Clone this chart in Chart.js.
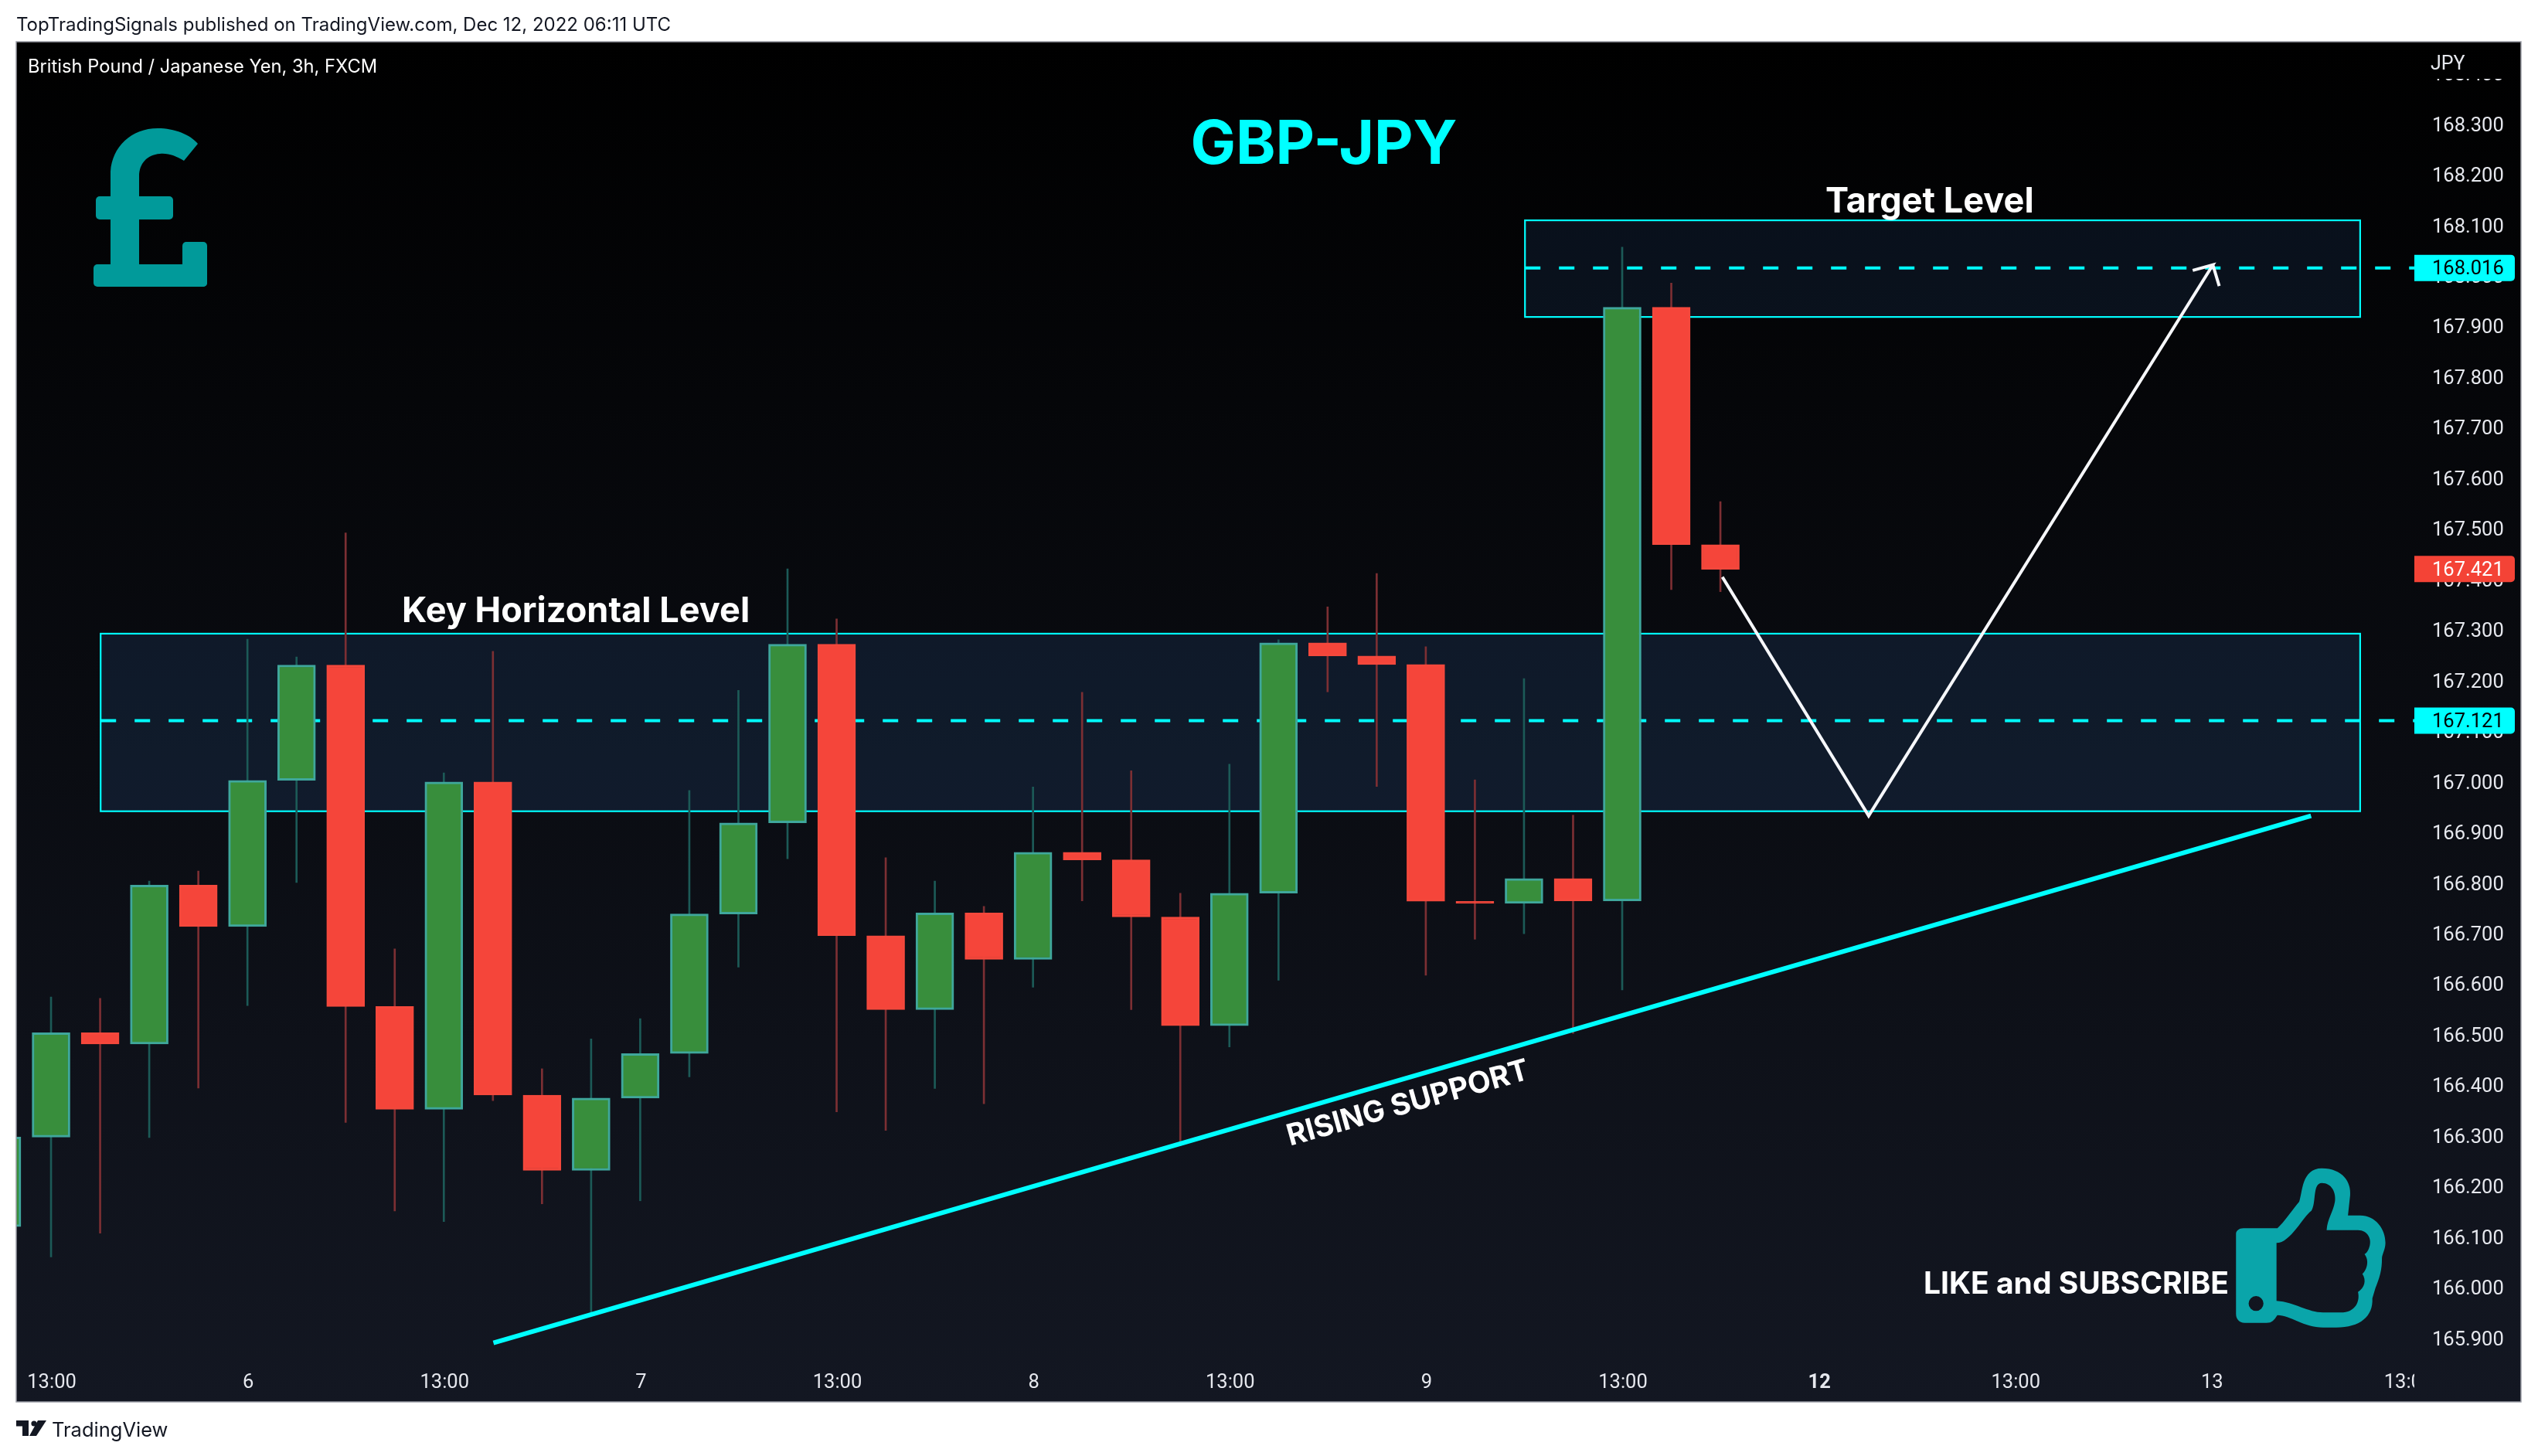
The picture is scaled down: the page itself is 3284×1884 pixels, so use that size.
<!DOCTYPE html>
<html><head><meta charset="utf-8">
<script src="https://cdn.jsdelivr.net/npm/chart.js@4"></script>
<style>html,body{margin:0;padding:0;background:#fff}canvas{display:block}</style>
</head><body><canvas id="c" width="3284" height="1884"></canvas>
<script>
// ---- data ----
const opens  = [166.121,166.298,166.504,166.482,166.796,166.714,167.003,167.231,166.556,166.353,167.000,166.381,166.232,166.375,166.463,166.739,166.919,167.272,166.696,166.550,166.741,166.649,166.861,166.846,166.733,166.518,166.780,167.275,167.249,167.232,166.764,166.760,166.809,166.765,167.938,167.469];
const highs  = [166.310,166.575,166.572,166.804,166.824,167.282,167.247,167.492,166.670,167.018,167.258,166.433,166.492,166.532,166.983,167.181,167.421,167.322,166.850,166.804,166.754,166.990,167.177,167.022,166.780,167.035,167.281,167.346,167.412,167.267,167.004,167.204,166.934,168.057,167.986,167.554];
const lows   = [166.100,166.061,166.108,166.297,166.395,166.558,166.801,166.327,166.152,166.131,166.370,166.166,165.952,166.172,166.417,166.634,166.848,166.348,166.311,166.394,166.364,166.594,166.765,166.550,166.281,166.476,166.608,167.178,166.991,166.618,166.689,166.700,166.503,166.589,167.380,167.376];
const closes = [166.298,166.504,166.482,166.796,166.714,167.003,167.231,166.556,166.353,167.000,166.381,166.232,166.375,166.463,166.739,166.919,167.272,166.696,166.550,166.741,166.649,166.861,166.846,166.733,166.518,166.780,167.275,167.249,167.232,166.764,166.760,166.809,166.765,167.938,167.469,167.420];
const priceTicks = [168.4,168.3,168.2,168.1,168.0,167.9,167.8,167.7,167.6,167.5,167.4,167.3,167.2,167.1,167.0,166.9,166.8,166.7,166.6,166.5,166.4,166.3,166.2,166.1,166.0,165.9];
const timeTickBars = [1,5,9,13,17,21,25,29,33,37,41,45,49];
const timeTickLabels = ['13:00','6','13:00','7','13:00','8','13:00','9','13:00','12','13:00','13','13:00'];
const keyZone = [2.01,48.03,167.293,166.942];
const targetZone = [31.02,48.03,168.110,167.919];
const keyLevel = 167.121, targetLevel = 168.016, lastPrice = 167.421;
const levelBars = [49.134];
const trendX = [10.01,47.03], trendY = [165.891,166.933];
const arrowX = [35.04,38.02,45.03,44.62,45.03,45.16];
const arrowY = [167.405,166.933,168.022,168.011,168.022,167.980];
const fullSans = 'Inter, "Noto Sans", sans-serif';
const axisSans = 'Roboto, "Noto Sans", sans-serif';

const GREEN='#388e3c', GREENB='#3fa79c', RED='#f5453a', REDB='#f4483c', GW='#1c5a57', RW='#7c2f33', CY='#00ffff', TEAL='#019a9a', TEAL2='#0aa5aa';
const up = i => closes[i] >= opens[i];
const pts = (xs,ys)=>xs.map((x,i)=>({x,y:ys[i]}));

const paintBg = {
  id:'paintBg',
  beforeDraw(ch){
    const c=ch.ctx; c.save();
    c.fillStyle='#fff'; c.fillRect(0,0,3284,1884);
    const g=c.createLinearGradient(0,54,0,1814);
    g.addColorStop(0,'#000000'); g.addColorStop(1,'#131722');
    c.fillStyle=g; c.fillRect(21,54,3241,1760);
    c.restore();
    ch.scales.y.getLabelItems().forEach(it=>{ if(!it.moved){ it.options.translation[1]+=2.5; it.moved=true; } });
    ch.scales.x.getLabelItems().forEach(it=>{ if(!it.moved){ it.options.translation[0]+=1; it.moved=true; } });
  }
};
function zone(ch,z,fill){
  const X=ch.scales.x,Y=ch.scales.y,c=ch.ctx;
  const l=X.getPixelForValue(z[0]),r=X.getPixelForValue(z[1]),t=Y.getPixelForValue(z[2]),b=Y.getPixelForValue(z[3]);
  c.fillStyle=fill; c.fillRect(l,t,r-l,b-t);
  c.strokeStyle=CY; c.lineWidth=2.2; c.strokeRect(l,t,r-l,b-t);
}
const zones = { id:'zones', beforeDatasetsDraw(ch){ const c=ch.ctx; c.save(); zone(ch,keyZone,'rgba(36,70,120,0.25)'); zone(ch,targetZone,'rgba(36,70,120,0.2)'); c.restore(); } };

function txt(c,s,x,y,font,color,align){ c.font=font; c.fillStyle=color; c.textAlign=align||'left'; c.textBaseline='alphabetic'; c.fillText(s,x,y); }
function rr(c,x,y,w,h,r){ c.beginPath(); c.roundRect(x,y,w,h,r); c.fill(); }
function tag(ch,val,bg,fg){
  const c=ch.ctx,y=ch.scales.y.getPixelForValue(val);
  c.fillStyle=bg; c.beginPath(); c.roundRect(3124,y-17,130,34,[0,5,5,0]); c.fill();
  c.font='25.5px '+axisSans; c.fillStyle=fg; c.textAlign='left'; c.textBaseline='middle';
  c.fillText(val.toFixed(3),3147,y+2);
}
function pound(c){
  c.fillStyle=TEAL;
  rr(c,124,254,100,30,5); rr(c,121,342,147,29,5); rr(c,236,313,32,58,5);
  c.beginPath(); c.moveTo(143,345); c.lineTo(143,222);
  c.bezierCurveTo(145,190,170,166,204,166);
  c.bezierCurveTo(226,166,246,174,256,186);
  c.lineTo(238,208);
  c.bezierCurveTo(228,202,218,198,207,199);
  c.bezierCurveTo(190,200,180,212,180,228);
  c.lineTo(180,345); c.closePath(); c.fill();
}
function thumb(c){
  const X=v=>2400+v/1.774, Y=v=>1440+v/3;
  const M=(a,b)=>c.moveTo(X(a),Y(b)), L=(a,b)=>c.lineTo(X(a),Y(b));
  const B=(a,b,d,e,f,g)=>c.bezierCurveTo(X(a),Y(b),X(d),Y(e),X(f),Y(g));
  c.fillStyle=TEAL2; c.beginPath();
  M(875,470); B(875,458,882,448,892,448); L(970,448);
  B(985,425,1005,375,1020,345); B(1028,310,1025,215,1072,215);
  B(1120,215,1140,270,1137,320); L(1132,398); L(1160,398);
  B(1195,398,1218,450,1218,505); B(1218,530,1210,550,1210,565);
  B(1210,610,1205,640,1195,680); L(1188,720);
  B(1190,790,1160,833,1105,833); L(1075,833);
  B(1030,833,1000,785,970,785); B(962,805,958,815,945,815); L(895,815);
  B(882,815,875,800,875,780); c.closePath();
  M(968,505); B(1000,505,1030,400,1048,380); B(1060,350,1050,272,1072,272);
  B(1095,272,1105,310,1102,345); B(1098,385,1085,410,1083,455); L(1155,455);
  B(1178,455,1186,490,1182,515); B(1180,530,1175,545,1170,548); B(1182,575,1175,610,1165,625);
  B(1175,650,1170,680,1155,695); B(1160,730,1150,775,1115,775); L(1075,775);
  B(1040,775,1010,735,968,730); c.closePath();
  c.moveTo(X(938),Y(740)); c.ellipse(X(921),Y(740),9.6,9.6,0,0,Math.PI*2);
  c.fill('evenodd');
}
function tvLogo(c){
  c.fillStyle='#131722';
  c.fillRect(21,1838,16,7.5); c.fillRect(29,1838,8,20);
  c.beginPath(); c.arc(44,1842,3.6,0,Math.PI*2); c.fill();
  c.beginPath(); c.moveTo(49,1838); c.lineTo(60,1838); c.lineTo(47,1858); c.lineTo(38,1858); c.closePath(); c.fill();
}
const overlay = {
  id:'overlay',
  afterDatasetsDraw(ch){
    const c=ch.ctx; c.save();
    const g=c.createLinearGradient(0,54,0,1814); g.addColorStop(0,'#000000'); g.addColorStop(1,'#131722');
    c.fillStyle=g; c.fillRect(3124,1762,136,50); c.fillRect(3124,56,136,46);
    tag(ch,targetLevel,CY,'#000');
    tag(ch,lastPrice,'#f44336','#fff');
    tag(ch,keyLevel,CY,'#000');
    c.strokeStyle='#9a9ca5'; c.lineWidth=1.5; c.strokeRect(21,54,3241,1760);
    txt(c,'TopTradingSignals published on TradingView.com, Dec 12, 2022 06:11 UTC',21,40,'24px '+fullSans,'#131722');
    txt(c,'British Pound / Japanese Yen, 3h, FXCM',36,94,'23.7px '+fullSans,'#ffffff');
    txt(c,'JPY',3145,90,'25px '+axisSans,'#e6e8ee');
    txt(c,'GBP-JPY',1713,212,'bold 78px '+fullSans,'#00ffff','center');
    txt(c,'Key Horizontal Level',520,805,'700 45.1px '+fullSans,'#ffffff');
    txt(c,'Target Level',2362,275,'700 45.1px '+fullSans,'#ffffff');
    txt(c,'LIKE and SUBSCRIBE',2489,1674,'700 39px '+fullSans,'#ffffff');
    c.save(); c.translate(1822,1428); c.rotate(-15.6*Math.PI/180);
    c.font='700 38.5px '+fullSans; c.fillStyle='#fff'; c.textAlign='center'; c.textBaseline='middle'; c.fillText('RISING SUPPORT',0,0); c.restore();
    pound(c); thumb(c); tvLogo(c);
    txt(c,'TradingView',67,1859,'25.5px '+fullSans,'#131722');
    c.restore();
  }
};

const wicks = opens.map((_,i)=>({x:i,y:[lows[i],highs[i]]}));
const bodies = opens.map((_,i)=>({x:i,y:[opens[i],closes[i]]}));
const levelStartKey = keyZone[0], levelStartTarget = targetZone[0];

new Chart(document.getElementById('c'),{
  type:'bar',
  plugins:[paintBg,zones,overlay],
  data:{datasets:[
    {type:'line',label:'Key level',data:pts([levelStartKey,levelBars[0]],[keyLevel,keyLevel]),borderColor:CY,borderWidth:4,borderDash:[20,24],pointRadius:0,tension:0,order:4},
    {type:'line',label:'Target level',data:pts([levelStartTarget,levelBars[0]],[targetLevel,targetLevel]),borderColor:CY,borderWidth:4,borderDash:[20,24],pointRadius:0,tension:0,order:4},
    {label:'Wicks',data:wicks,grouped:false,barThickness:2,backgroundColor:opens.map((_,i)=>up(i)?GW:RW),borderWidth:0,order:3},
    {label:'Bodies',data:bodies,grouped:false,barThickness:49,backgroundColor:opens.map((_,i)=>up(i)?GREEN:RED),borderColor:opens.map((_,i)=>up(i)?GREENB:REDB),borderWidth:3,borderSkipped:false,order:2},
    {type:'line',label:'Rising support',data:pts(trendX,trendY),borderColor:CY,borderWidth:6,pointRadius:0,tension:0,order:1},
    {type:'line',label:'Projection',data:pts(arrowX,arrowY),borderColor:'#f6f7fa',borderWidth:4,pointRadius:0,tension:0,borderJoinStyle:'miter',order:0}
  ]},
  options:{
    responsive:false,devicePixelRatio:1,animation:false,
    layout:{autoPadding:false,padding:{left:21,top:54,right:22,bottom:70}},
    plugins:{legend:{display:false},tooltip:{enabled:false},title:{display:false}},
    scales:{
      x:{type:'linear',position:'bottom',offset:false,min:0.291,max:49.134,
        grid:{display:false,drawTicks:false},border:{display:false},
        afterBuildTicks(s){s.ticks=timeTickBars.map(v=>({value:v}));},
        afterFit(s){s.height=54;},
        ticks:{autoSkip:false,maxRotation:0,minRotation:0,padding:14,color:'#e6e8ee',
          font:ctx=>({family:axisSans,size:25.5,weight:ctx.tick&&ctx.tick.value===37?'700':'400'}),
          callback:v=>timeTickLabels[timeTickBars.indexOf(v)]}},
      y:{type:'linear',position:'right',min:165.857,max:168.463,
        grid:{display:false,drawTicks:false},border:{display:false},
        afterBuildTicks(s){s.ticks=priceTicks.map(v=>({value:v}));},
        afterFit(s){s.width=138;},
        ticks:{autoSkip:false,padding:23,color:'#e6e8ee',font:{family:axisSans,size:25.5},callback:v=>v.toFixed(3)}}
    }
  }
});
</script></body></html>
